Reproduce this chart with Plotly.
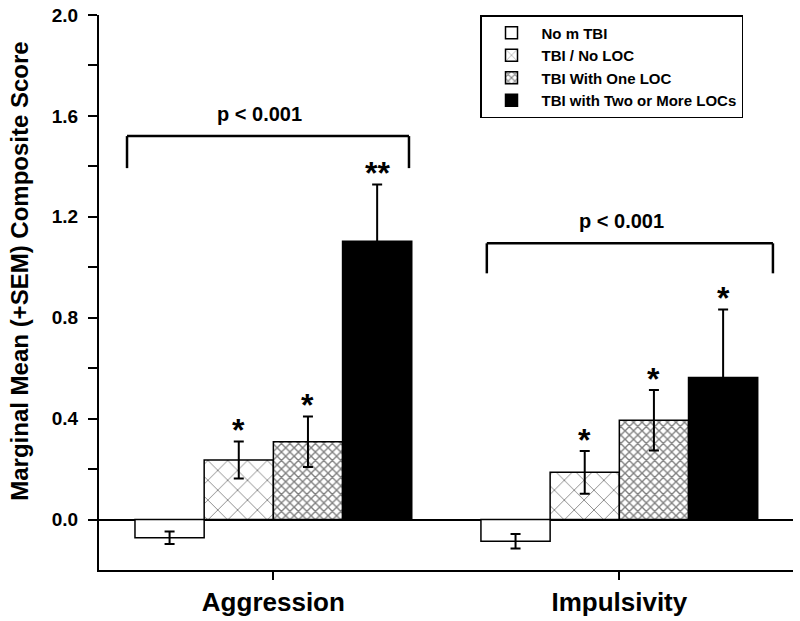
import plotly.graph_objects as go

categories = ["Aggression", "Impulsivity"]
series_names = ["No m TBI", "TBI / No LOC", "TBI With One LOC", "TBI with Two or More LOCs"]
means = {
    "No m TBI": [-0.072, -0.086],
    "TBI / No LOC": [0.236, 0.187],
    "TBI With One LOC": [0.308, 0.394],
    "TBI with Two or More LOCs": [1.103, 0.563],
}
sems = {
    "No m TBI": [0.025, 0.029],
    "TBI / No LOC": [0.073, 0.085],
    "TBI With One LOC": [0.100, 0.120],
    "TBI with Two or More LOCs": [0.225, 0.270],
}
stars = {
    "No m TBI": ["", ""],
    "TBI / No LOC": ["*", "*"],
    "TBI With One LOC": ["*", "*"],
    "TBI with Two or More LOCs": ["**", "*"],
}
p_labels = ["p < 0.001", "p < 0.001"]
y_title = "Marginal Mean (+SEM) Composite Score"

FONT = "Arial, Liberation Sans, sans-serif"
styles = {
    "No m TBI": dict(color="white", pattern=None),
    "TBI / No LOC": dict(color="white", pattern=dict(shape="x", size=14, solidity=0.12, fgcolor="black", bgcolor="white", fillmode="overlay")),
    "TBI With One LOC": dict(color="white", pattern=dict(shape="x", size=6, solidity=0.4, fgcolor="black", bgcolor="white", fillmode="overlay")),
    "TBI with Two or More LOCs": dict(color="black", pattern=None),
}

fig = go.Figure()
for name in series_names:
    st = styles[name]
    marker = dict(color=st["color"], line=dict(color="black", width=1.5))
    if st["pattern"]:
        marker["pattern"] = st["pattern"]
    fig.add_trace(go.Bar(
        x=categories, y=means[name], name=name, marker=marker,
        error_y=dict(type="data", array=sems[name], visible=True, color="black", thickness=2, width=5),
    ))

# asterisks
for si, name in enumerate(series_names):
    for ci, cat in enumerate(categories):
        if stars[name][ci]:
            fig.add_annotation(
                x=ci + (si - 1.5) * 0.2, y=means[name][ci] + sems[name][ci] + 0.045,
                xref="x", yref="y", text="<b>%s</b>" % stars[name][ci], showarrow=False,
                font=dict(family=FONT, size=32, color="black"), yanchor="middle")

# significance brackets (x0, x1, y_top, y_bottom)
brackets = [(-0.423, 0.392, 1.52, 1.393), (0.617, 1.444, 1.095, 0.976)]
for (x0, x1, yt, yb), lab in zip(brackets, p_labels):
    fig.add_shape(type="line", x0=x0, x1=x1, y0=yt, y1=yt, line=dict(color="black", width=2.5), xref="x", yref="y")
    fig.add_shape(type="line", x0=x0, x1=x0, y0=yt, y1=yb, line=dict(color="black", width=2.5), xref="x", yref="y")
    fig.add_shape(type="line", x0=x1, x1=x1, y0=yt, y1=yb, line=dict(color="black", width=2.5), xref="x", yref="y")
    fig.add_annotation(x=(x0 + x1) / 2 - 0.025, y=yt + 0.035, text="<b>%s</b>" % lab, showarrow=False,
                       xref="x", yref="y", yanchor="bottom",
                       font=dict(family=FONT, size=20, color="black"))

# y-axis title as rotated annotation
fig.add_annotation(x=-0.114, y=0.539, xref="paper", yref="paper", text="<b>%s</b>" % y_title,
                   textangle=-90, showarrow=False, xanchor="center", yanchor="middle",
                   font=dict(family=FONT, size=24, color="black"))

fig.update_layout(
    width=800, height=621,
    margin=dict(l=99, r=7, t=15, b=51),
    paper_bgcolor="white", plot_bgcolor="white",
    barmode="group", bargap=0.2, bargroupgap=0,
    font=dict(family=FONT, color="black"),
    legend=dict(
        x=0.549, y=1.0, xanchor="left", yanchor="top",
        bordercolor="black", borderwidth=1.5, bgcolor="white",
        font=dict(family=FONT, size=15, color="black", weight="bold"),
        tracegroupgap=0, itemwidth=50,
    ),
    showlegend=True,
)
fig.update_xaxes(
    range=[-0.504, 1.502], showline=True, linecolor="black", linewidth=2,
    ticks="outside", ticklen=8, tickwidth=2, tickcolor="black",
    tickfont=dict(family=FONT, size=26, color="black", weight="bold"),
    showgrid=False, zeroline=False, automargin=False,
)
fig.update_yaxes(
    range=[-0.2, 2.0], tickvals=[0.0, 0.4, 0.8, 1.2, 1.6, 2.0],
    ticktext=["0.0", "0.4", "0.8", "1.2", "1.6", "2.0"],
    showline=True, linecolor="black", linewidth=2,
    ticks="outside", ticklen=9, tickwidth=2, tickcolor="black",
    minor=dict(tickvals=[0.2, 0.6, 1.0, 1.4, 1.8], ticks="outside", ticklen=9, tickwidth=2, tickcolor="black"),
    tickfont=dict(family=FONT, size=19, color="black", weight="bold"),
    ticklabelstandoff=6,
    showgrid=False, zeroline=True, zerolinecolor="black", zerolinewidth=2, automargin=False,
)

fig.write_html("out.html", post_script="document.body.style.margin='0';",
               config={"displayModeBar": False})
